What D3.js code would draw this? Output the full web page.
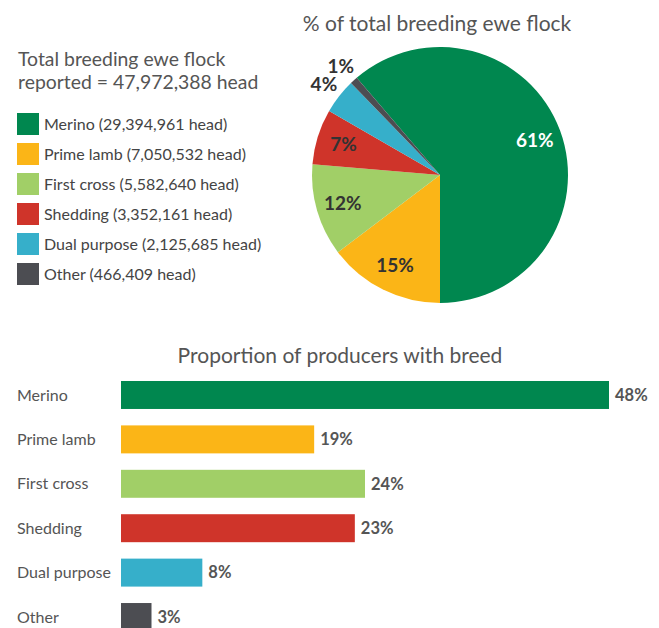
<!DOCTYPE html>
<html lang="en">
<head>
  <meta charset="UTF-8" />
  <title>Breeding ewe flock</title>
  <script src="https://d3js.org/d3.v7.min.js"></script>
  <style>
    body {
      margin: 0;
      background: #fff;
      font-family: Lato, 'Open Sans', sans-serif;
    }
    svg { display: block; }
    .title { font-size: 21px; fill: #555; }
    .block { font-size: 19.4px; fill: #555; }
    .legend-label { font-size: 16px; fill: #444; }
    .pie-label { font-size: 19px; font-weight: 700; fill: #333; }
    .bar-cat { font-size: 16px; fill: #555; }
    .bar-val { font-size: 16.5px; font-weight: 700; fill: #555; }
  </style>
</head>
<body>
<svg width="659" height="628"></svg>

<script>
// flock data (head)
const breeds = ["Merino", "Prime lamb", "First cross", "Shedding", "Dual purpose", "Other"];
const flockHead = [29394961, 7050532, 5582640, 3352161, 2125685, 466409];
const flockPct = ["61%", "15%", "12%", "7%", "4%", "1%"];
// proportion of producers with breed (%)
const producerPct = [48, 19, 24, 23, 8, 3];
const colors = ["#00874f", "#fbb517", "#a1cf67", "#cf342a", "#36afca", "#4c4d52"];

const svg = d3.select("svg");
const fmt = d3.format(",");
const total = d3.sum(flockHead);

// cut-off figure heading at the very top
svg.append("text")
  .attr("class", "title")
  .attr("x", 18)
  .attr("y", -4)
  .style("font-weight", 700)
  .text("Figure 2: Composition of the ewe flock held and breed use by");

// left text block
svg.append("text").attr("class", "block").attr("x", 18).attr("y", 66)
  .text("Total breeding ewe flock");
svg.append("text").attr("class", "block").attr("x", 18).attr("y", 89)
  .text(`reported = ${fmt(total)} head`);

// legend
const legend = svg.append("g").attr("transform", "translate(17,113)");
breeds.forEach((b, i) => {
  const row = legend.append("g").attr("transform", `translate(0,${i * 30})`);
  row.append("rect").attr("width", 22).attr("height", 22).attr("fill", colors[i]);
  row.append("text")
    .attr("class", "legend-label")
    .attr("x", 27)
    .attr("y", 11)
    .attr("dy", "0.35em")
    .text(`${b} (${fmt(flockHead[i])} head)`);
});

// pie
const cx = 440, cy = 175, r = 128;
svg.append("text")
  .attr("class", "title")
  .attr("x", cx - 3)
  .attr("y", 31)
  .attr("text-anchor", "middle")
  .text("% of total breeding ewe flock");

const start = Math.PI - 2 * Math.PI * flockHead[0] / total;
const pie = d3.pie().sort(null).startAngle(start).endAngle(start + 2 * Math.PI);
const arcs = pie(flockHead);
const arc = d3.arc().innerRadius(0).outerRadius(r);
const inner = d3.arc().innerRadius(r * 0.79).outerRadius(r * 0.79);
const outer = d3.arc().innerRadius(r * 1.15).outerRadius(r * 1.15);

const pg = svg.append("g").attr("transform", `translate(${cx},${cy})`);
pg.selectAll("path")
  .data(arcs)
  .join("path")
  .attr("d", arc)
  .attr("fill", (d, i) => colors[i]);

pg.selectAll("text")
  .data(arcs)
  .join("text")
  .attr("class", "pie-label")
  .attr("transform", (d, i) => {
    const small = (d.endAngle - d.startAngle) < 0.35;
    const c = (small ? outer : inner).centroid(d);
    return `translate(${c[0]},${c[1]})`;
  })
  .attr("text-anchor", "middle")
  .attr("dy", "0.35em")
  .style("fill", (d, i) => i === 0 ? "#fff" : "#333")
  .text((d, i) => flockPct[i]);

// bar chart
svg.append("text")
  .attr("class", "title")
  .attr("x", 340)
  .attr("y", 363)
  .attr("text-anchor", "middle")
  .text("Proportion of producers with breed");

const x = d3.scaleLinear().domain([0, 48]).range([121, 609]);
const y = d3.scaleBand().domain(breeds).range([373, 639]).paddingInner(0.37).paddingOuter(0.18);

svg.selectAll("rect.bar")
  .data(breeds)
  .join("rect")
  .attr("class", "bar")
  .attr("x", x(0))
  .attr("y", d => y(d))
  .attr("width", (d, i) => x(producerPct[i]) - x(0))
  .attr("height", y.bandwidth())
  .attr("fill", (d, i) => colors[i]);

svg.selectAll("text.bar-cat")
  .data(breeds)
  .join("text")
  .attr("class", "bar-cat")
  .attr("x", 17)
  .attr("y", d => y(d) + y.bandwidth() / 2)
  .attr("dy", "0.35em")
  .text(d => d);

svg.selectAll("text.bar-val")
  .data(breeds)
  .join("text")
  .attr("class", "bar-val")
  .attr("x", (d, i) => x(producerPct[i]) + 6)
  .attr("y", d => y(d) + y.bandwidth() / 2)
  .attr("dy", "0.35em")
  .text((d, i) => producerPct[i] + "%");
</script>
</body>
</html>
